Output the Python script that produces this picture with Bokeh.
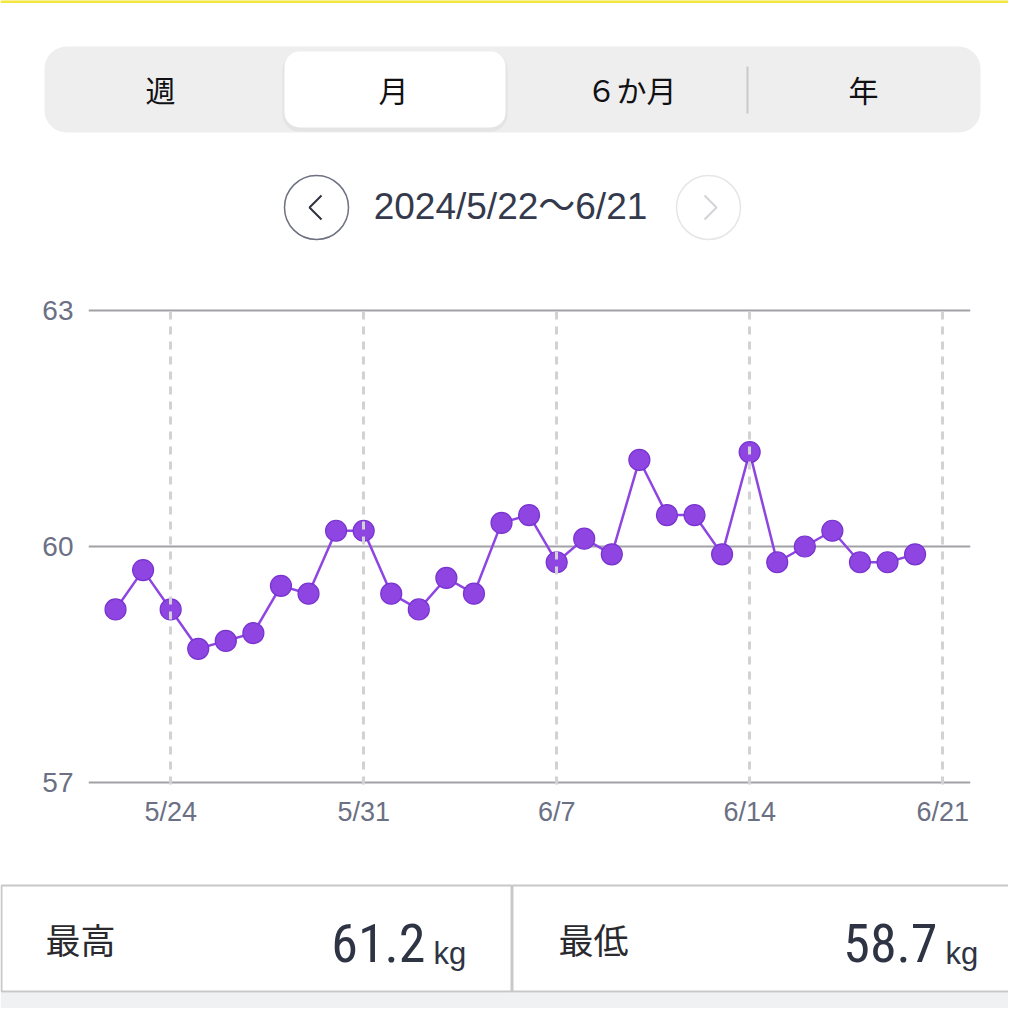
from datetime import date

from bokeh.plotting import figure
from bokeh.models import Range1d, FixedTicker, BoxAnnotation, Label, ColumnDataSource
from bokeh.layouts import column
from bokeh.embed import file_html
from bokeh.resources import INLINE

# ---------------- data ----------------
dates = ["5/22", "5/23", "5/24", "5/25", "5/26", "5/27", "5/28", "5/29", "5/30", "5/31",
         "6/1", "6/2", "6/3", "6/4", "6/5", "6/6", "6/7", "6/8", "6/9", "6/10",
         "6/11", "6/12", "6/13", "6/14", "6/15", "6/16", "6/17", "6/18", "6/19", "6/20"]
weights = [59.2, 59.7, 59.2, 58.7, 58.8, 58.9, 59.5, 59.4, 60.2, 60.2,
           59.4, 59.2, 59.6, 59.4, 60.3, 60.4, 59.8, 60.1, 59.9, 61.1,
           60.4, 60.4, 59.9, 61.2, 59.8, 60.0, 60.2, 59.8, 59.8, 59.9]
tick_dates = ["5/24", "5/31", "6/7", "6/14", "6/21"]
y_ticks = [57, 60, 63]
y_min, y_max = 57, 63
tabs = ["週", "月", "６か月", "年"]
period_label = "2024/5/22〜6/21"
stat_labels = ["最高", "最低"]
unit = "kg"

START = date(2024, 5, 22)


def to_day(s):
    m, d = map(int, s.split("/"))
    return (date(2024, m, d) - START).days


xs = [to_day(s) for s in dates]
tick_days = [to_day(s) for s in tick_dates]
stat_values = [f"{max(weights):.1f}", f"{min(weights):.1f}"]

# ---------------- layout helpers ----------------
W = 1008
OX = 0

CJK = "Noto Sans CJK JP"
SANS = "'Liberation Sans', 'Noto Sans CJK JP'"
NARROW = ("'Roboto Condensed', 'Liberation Sans Narrow', 'DejaVu Sans Condensed', "
          "'Noto Sans Condensed', 'Open Sans Condensed', 'Liberation Sans'")
PURPLE = "#8e45e2"
PURPLE_DARK = "#7833cf"
GREY_TXT = "#6b7084"


def ui_fig(h):
    f = figure(width=W, height=h, x_range=Range1d(0, W), y_range=Range1d(0, h),
               x_axis_type=None, y_axis_type=None, output_backend="svg",
               toolbar_location=None, min_border=0, frame_align=False)
    f.grid.visible = False
    f.outline_line_color = None
    f.background_fill_color = "white"
    f.border_fill_color = "white"
    return f


def X(rx):
    return rx - OX


# ---------------- top: segmented control + period ----------------
TOP_Y0, TOP_Y1 = 0, 260
TOP_H = TOP_Y1 - TOP_Y0


def YT(ry):
    return TOP_Y1 - ry


top = ui_fig(TOP_H)
top.segment(x0=[0], y0=[YT(1)], x1=[W], y1=[YT(1)], line_color="#f4e63a", line_width=3)
top.add_layout(BoxAnnotation(left=X(44), right=X(980), top=YT(46), bottom=YT(132),
                             fill_color="#eeeeef", fill_alpha=1, line_color=None,
                             border_radius=22, level="underlay"))
top.add_layout(BoxAnnotation(left=X(282), right=X(507), top=YT(52), bottom=YT(131),
                             fill_color="#d9d9d9", fill_alpha=0.5, line_color=None,
                             border_radius=17, level="underlay"))
top.add_layout(BoxAnnotation(left=X(284), right=X(505), top=YT(51), bottom=YT(127),
                             fill_color="white", fill_alpha=1, line_color=None,
                             border_radius=15, level="underlay"))
top.segment(x0=[X(747)], y0=[YT(66)], x1=[X(747)], y1=[YT(113)],
            line_color="#c9c9cb", line_width=2)

tab_x = [160, 393, 631, 863]
for t, tx in zip(tabs, tab_x):
    top.add_layout(Label(x=X(tx), y=YT(88), text=t, text_align="center",
                         text_baseline="middle", text_font_size="30px",
                         text_font=CJK, text_color="#111114"))

# navigation circles
top.circle(x=[X(316)], y=[YT(207)], radius=32, fill_color="white",
           line_color="#6e7182", line_width=1.5)
top.circle(x=[X(708)], y=[YT(207)], radius=32, fill_color="white",
           line_color="#e6e6e8", line_width=1.5)
top.line(x=[X(321), X(309), X(321)], y=[YT(195), YT(207), YT(219)],
         line_color="#2f3340", line_width=2)
top.line(x=[X(704), X(716), X(704)], y=[YT(195), YT(207), YT(219)],
         line_color="#d4d4d8", line_width=2)
top.add_layout(Label(x=X(510), y=YT(206), text=period_label, text_align="center",
                     text_baseline="middle", text_font_size="37px",
                     text_font=SANS, text_color="#343a4c"))

# ---------------- chart ----------------
CH_Y0, CH_Y1 = 260, 860
CH = CH_Y1 - CH_Y0
PAD = 0.025  # tiny pad so the edge gridlines (57 / 63) are not clipped
PX_PER_UNIT = (782 - 310) / (y_max - y_min)
pad_px = int(round(PAD * PX_PER_UNIT))
p = figure(width=W, height=CH, x_range=Range1d(-0.98, 31.01),
           y_range=Range1d(y_min - PAD, y_max + PAD),
           output_backend="svg", toolbar_location=None, frame_align=False,
           min_border_left=88 - OX, min_border_right=W - (970 - OX),
           min_border_top=310 - CH_Y0 - pad_px, min_border_bottom=CH_Y1 - 782 - pad_px)
p.outline_line_color = None
p.background_fill_color = "white"
p.border_fill_color = "white"

p.yaxis.ticker = FixedTicker(ticks=y_ticks)
p.xaxis.ticker = FixedTicker(ticks=tick_days)
p.xaxis.major_label_overrides = {d: s for d, s in zip(tick_days, tick_dates)}
for ax in (p.xaxis[0], p.yaxis[0]):
    ax.axis_line_color = None
    ax.major_tick_line_color = None
    ax.minor_tick_line_color = None
    ax.major_tick_out = 0
    ax.major_tick_in = 0
    ax.major_label_text_color = GREY_TXT
    ax.major_label_text_font = "Liberation Sans"
p.yaxis.major_label_text_font_size = "28px"
p.xaxis.major_label_text_font_size = "27px"
p.yaxis.major_label_standoff = 15
p.xaxis.major_label_standoff = 12

p.ygrid.ticker = FixedTicker(ticks=y_ticks)
p.ygrid.grid_line_color = "#a2a2a6"
p.ygrid.grid_line_width = 2
p.xgrid.ticker = FixedTicker(ticks=tick_days)
p.xgrid.grid_line_color = "#d2d2d4"
p.xgrid.grid_line_width = 3
p.xgrid.grid_line_dash = "8 7"
p.xgrid.level = "overlay"

src = ColumnDataSource(dict(x=xs, y=weights))
p.line("x", "y", source=src, line_color=PURPLE, line_width=2.5)
p.scatter("x", "y", source=src, size=21, fill_color=PURPLE, line_color=PURPLE_DARK,
          line_width=1.2)

# ---------------- bottom: stats ----------------
BOT_Y0 = 860
BOT_H = W - (TOP_H + CH)


def YB(ry):
    return (BOT_Y0 + BOT_H) - ry


bot = ui_fig(BOT_H)
bot.add_layout(BoxAnnotation(left=0, right=W, top=YB(992), bottom=0,
                             fill_color="#f0f1f3", fill_alpha=1, line_color=None,
                             level="underlay"))
for lft, rgt in [(1, 511), (512, 1022)]:
    bot.add_layout(BoxAnnotation(left=X(lft), right=X(rgt), top=YB(885), bottom=YB(991),
                                 fill_color="white", fill_alpha=1,
                                 line_color="#c8c8ca", line_width=2, line_alpha=1,
                                 level="underlay"))

label_x = [45, 558]
value_right = [425, 937]
for lab, val, lx, vr in zip(stat_labels, stat_values, label_x, value_right):
    bot.add_layout(Label(x=X(lx), y=YB(938), text=lab, text_align="left",
                         text_baseline="middle", text_font_size="35px",
                         text_font=CJK, text_color="#2a2a2e"))
    bot.add_layout(Label(x=X(vr), y=YB(942), text=val, text_align="right",
                         text_baseline="middle", text_font_size="54px",
                         text_font=NARROW, text_color="#2e3444"))
    bot.add_layout(Label(x=X(vr + 8), y=YB(953), text=unit, text_align="left",
                         text_baseline="middle", text_font_size="31px",
                         text_font="Liberation Sans", text_color="#2e3444"))

layout = column(top, p, bot, spacing=0)
open("out.html", "w").write(file_html(layout, INLINE))
